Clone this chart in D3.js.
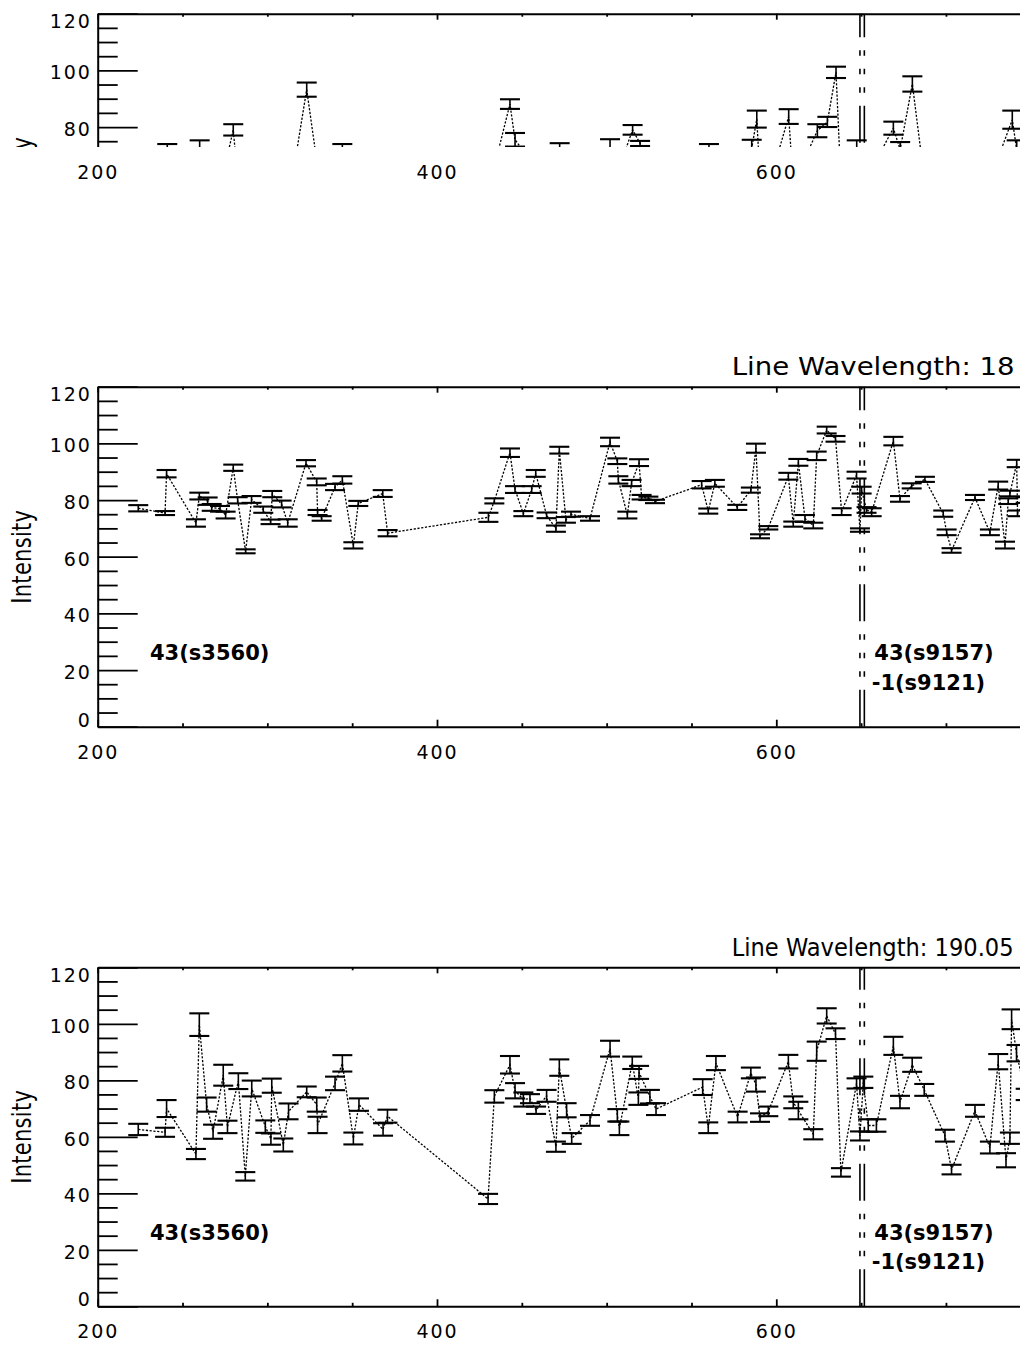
<!DOCTYPE html>
<html><head><meta charset="utf-8">
<script src="https://cdn.jsdelivr.net/npm/d3@7"></script>
<style>
body{margin:0;background:#fff}
svg{display:block}
text{font-family:"DejaVu Sans",sans-serif;fill:#000}
</style></head><body>
<svg id="c" width="1034" height="1346"></svg>
<script>
// ---------------- data ----------------
const xMajor = [200, 400, 600, 800];
const xMinor = [250, 300, 350, 450, 500, 550, 650, 700, 750];
const yMajor = [0, 20, 40, 60, 80, 100, 120];
const yMinor = [5,10,15,25,30,35,45,50,55,65,70,75,85,90,95,105,110,115];

const titles = [null, "Line Wavelength: 18", "Line Wavelength: 190.05"];
const leftLabel = "43(s3560)";
const rightLabels = ["43(s9157)", "-1(s9121)"];
const refLines = [649.3, 651.9];

// panel 1 (upper part only visible)
const p1X = [223.9,241.0,257.9,260.1,267.0,275.0,279.9,282.5,290.7,302.0,
  312.0,323.2,329.6,339.9,344.2,353.6,370.9,433.8,443.0,446.0,
  458.0,472.3,479.0,502.0,507.0,515.3,519.7,528.5,560.3,577.0,
  585.5,588.5,590.4,598.0,607.3,610.0,624.2,630.1,635.2,638.5,
  647.4,656.0,669.0,673.0,680.2,687.6,700.0,717.0,731.3,739.1,
  741.7,747];
const p1Y = [62,71,60,72.5,65,66,79,62,64,66,
  52,93.2,66,60,71,62,64,66,88.1,75.5,
  66,71.5,64,73,65,79,74.2,68,71,65,
  72.5,82.8,62,64.5,83.7,60,78.7,81.8,99.3,55,
  72,65,79.6,72,95.2,60,62,65,70,82.6,
  72,68];
const p1E = [2,3,2,2.8,2,2,2,2,2,2,
  2,2.5,2,2,3,2,2,2,1.7,2.4,
  2,2.8,2,2.7,2,1.7,0.9,2,3,2,
  3,3,2,2,2.6,2,2.3,1.8,2,2,
  3.3,2,2.3,2.7,2.7,2,2,2,2,3.2,
  3.3,2];

// panel 2
const p2X = [223.9,239.7,240.6,257.9,259.9,264.8,267.2,272.1,275.4,279.9,
  282.5,287.2,290.7,297.6,301.9,302.9,308.4,312.0,322.8,329.1,
  329.6,332.0,339.9,344.2,350.7,353.6,368.0,370.9,430.3,433.8,
  443.0,446.0,450.9,455.8,458.2,464.6,470.1,472.1,476.0,479.0,
  490.2,502.0,506.3,506.9,512.2,514.7,519.1,520.6,524.6,528.5,
  556.0,559.9,563.8,577.0,585.0,588.0,590.4,595.3,607.1,610.0,
  613.0,616.9,621.8,623.8,629.7,634.9,638.5,647.3,649.3,650.3,
  653.2,656.2,669.0,672.9,679.8,687.6,698.4,700.4,703.3,717.1,
  725.9,730.8,734.8,736.7,737.7,741.7,742.2,747];
const p2Y = [77.1,75.4,89.3,71.9,81.4,79.6,77.4,76.9,74.7,91.4,
  79.9,61.9,80.2,76.6,72.3,82.1,78.6,71.9,93.0,86.4,
  75.6,73.5,84.6,87.1,64.0,78.8,82.3,68.3,73.9,79.7,
  96.7,83.7,75.2,83.7,89.4,74.6,69.9,97.6,73.0,75.0,
  73.5,100.5,93.7,87.1,74.7,86.0,93.2,81.0,80.6,79.5,
  85.4,76.1,85.9,77.4,83.5,98.3,67.2,70.2,88.4,71.5,
  93.3,73.5,71.0,95.6,104.7,101.6,75.9,88.8,69.4,83.5,
  76.5,75.7,100.8,80.4,85.0,87.3,75.2,68.6,62.2,80.9,
  68.6,85.1,64.1,79.6,82.3,92.9,75.3,80];
const p2E = [1.1,0.7,1.3,1.3,1.2,1.3,1.2,1.0,1.2,1.1,
  1.1,0.7,1.2,1.1,0.8,1.1,1.2,1.3,1.1,1.2,
  0.9,0.8,1.1,1.3,1.1,0.9,1.2,1.1,1.6,0.9,
  1.5,1.2,0.9,1.2,1.2,1.0,1.1,1.2,1.0,0.9,
  0.8,1.5,1.0,1.3,1.2,1.1,1.2,0.8,0.6,0.6,
  1.3,0.9,1.2,0.9,0.9,1.6,0.7,0.6,1.2,0.9,
  1.2,1.2,1.0,1.5,1.2,1.0,1.2,1.2,0.6,1.2,
  1.0,1.4,1.5,1.0,0.9,0.9,1.1,1.0,0.8,0.9,
  1.0,1.4,1.2,1.0,1.0,1.3,1.0,1.0];

// panel 3
const p3X = [223.9,239.7,240.6,257.9,259.9,264.2,268.0,274.0,276.5,282.9,
  287.0,290.8,298.8,302.1,302.6,309.4,312.5,323.2,329.1,329.6,
  339.9,344.2,350.7,354.0,368.2,370.8,430.1,433.8,443.0,446.0,
  450.9,454.8,458.4,464.6,470.1,472.1,476.4,479.4,490.2,502.0,
  506.3,507.5,515.1,518.7,519.1,525.5,529.1,556.6,559.9,564.4,
  577.2,585.0,588.0,590.4,595.3,607.1,610.0,613.0,621.8,623.8,
  629.7,634.9,638.1,647.3,649.3,651.3,654.2,659.0,669.0,672.9,
  680.1,687.2,699.4,703.3,717.1,725.9,730.8,735.4,737.7,738.7,
  741.6,747];
const p3Y = [62.6,61.6,70.0,53.9,99.7,71.4,61.8,81.8,63.5,79.7,
  46.0,77.1,63.6,59.2,78.1,57.1,69.0,75.9,71.4,64.2,
  78.9,86.0,59.4,71.4,62.6,67.3,38.0,74.3,85.5,76.3,
  73.2,73.5,69.4,74.5,56.5,84.5,69.4,59.4,65.8,91.2,
  67.6,63.0,86.2,73.5,82.8,74.2,69.8,77.6,63.2,86.1,
  67.0,82.6,78.5,66.8,69.0,86.6,72.2,69.3,60.9,90.3,
  102.8,96.5,47.4,78.9,60.3,79.3,64.0,64.0,92.2,72.3,
  85.5,76.6,60.4,48.4,69.2,56.2,86.6,51.7,59.5,101.6,
  89.6,75];
const p3E = [2.0,1.6,3.0,1.8,4.0,2.5,2.5,3.7,2.2,2.8,
  1.5,2.8,2.2,2.0,2.5,2.3,2.8,1.9,2.5,2.9,
  2.4,2.9,2.1,2.2,2.2,2.3,1.8,2.2,3.1,2.7,
  2.5,1.6,1.3,2.1,1.8,2.9,2.5,1.9,1.9,2.8,
  2.2,2.4,2.2,2.2,2.3,2.4,2.1,2.8,1.9,2.5,
  1.9,1.9,2.5,1.5,1.7,2.4,2.1,3.1,1.8,3.4,
  2.7,1.9,1.5,1.8,1.6,2.0,2.2,2.2,3.2,2.2,
  2.5,2.1,2.1,1.7,2.1,2.1,2.7,2.5,2.0,3.5,
  2.9,2.0];

// ---------------- layout ----------------
const svg = d3.select('#c');
const CLIP_X = 1020;
const xL = 97.7, pxPerUnit = 1.6965;
const x = d3.scaleLinear().domain([200, 800]).range([xL, xL + 600 * pxPerUnit]);
const xLabelTicks = xMajor.filter(v => x(v) < CLIP_X);

const panels = [
  {X: p1X, Y: p1Y, E: p1E, top: 13.7, bottom: 353.7, cut: 147, title: titles[0], titleLen: 0},
  {X: p2X, Y: p2Y, E: p2E, top: 386.7, bottom: 726.7, cut: null, title: titles[1], titleLen: 283},
  {X: p3X, Y: p3Y, E: p3E, top: 967.3, bottom: 1306.3, cut: null, title: titles[2], titleLen: 282}
];

const defs = svg.append('defs');
panels.forEach((p, i) => {
  defs.append('clipPath').attr('id', 'clip' + i).append('rect')
    .attr('x', 0).attr('y', 0).attr('width', CLIP_X).attr('height', p.cut == null ? 1346 : p.cut);
});

const TICK_FS = 19, TICK_LS = 1.9;

function styleAxis(sel) {
  sel.attr('font-family', '"DejaVu Sans", sans-serif').attr('font-size', TICK_FS);
  sel.selectAll('.domain').attr('stroke', '#000').attr('stroke-width', 2);
  sel.selectAll('.tick line').attr('stroke', '#000').attr('stroke-width', 1.8);
  sel.selectAll('.tick text').attr('fill', '#000').attr('letter-spacing', TICK_LS);
}

panels.forEach((p, i) => {
  const y = d3.scaleLinear().domain([0, 120]).range([p.bottom, p.top]);
  const g = svg.append('g').attr('clip-path', `url(#clip${i})`);
  const visibleY = v => p.cut == null || y(v) < p.cut;

  // left axis - major
  const ya = g.append('g').attr('transform', `translate(${xL},0)`)
    .call(d3.axisLeft(y).tickValues(yMajor).tickSize(-40).tickSizeOuter(0)
      .tickPadding(6).tickFormat(d => String(d)));
  styleAxis(ya);
  ya.selectAll('.tick text')
    .attr('dy', d => d === 120 ? '0.74em' : (d === 0 ? '-0.02em' : '0.45em'))
    .filter(d => !visibleY(d)).remove();
  // left axis - minor
  const ym = g.append('g').attr('transform', `translate(${xL},0)`)
    .call(d3.axisLeft(y).tickValues(yMinor).tickSize(-20).tickFormat(''));
  ym.select('.domain').remove();
  styleAxis(ym);

  // top axis
  const ta = g.append('g').attr('transform', `translate(0,${p.top})`)
    .call(d3.axisTop(x).tickValues(xMajor).tickSize(-6).tickSizeOuter(0).tickFormat(''));
  styleAxis(ta);
  const tm = g.append('g').attr('transform', `translate(0,${p.top})`)
    .call(d3.axisTop(x).tickValues(xMinor).tickSize(-3).tickFormat(''));
  tm.select('.domain').remove();
  styleAxis(tm);

  // bottom axis
  if (p.cut == null) {
    const ba = g.append('g').attr('transform', `translate(0,${p.bottom})`)
      .call(d3.axisBottom(x).tickValues(xLabelTicks).tickSize(-7).tickSizeOuter(0).tickPadding(18.5));
    styleAxis(ba);
    const bm = g.append('g').attr('transform', `translate(0,${p.bottom})`)
      .call(d3.axisBottom(x).tickValues(xMinor).tickSize(-3.5).tickFormat(''));
    bm.select('.domain').remove();
    styleAxis(bm);
  }

  // y-axis title
  g.append('text')
    .attr('transform', `translate(21.7,${(p.top + p.bottom) / 2}) rotate(-90) scale(1,1.25)`)
    .attr('text-anchor', 'middle').attr('dy', '0.36em')
    .attr('font-size', 21).attr('letter-spacing', 0.3)
    .text('Intensity');

  // reference vertical lines
  refLines.forEach(rx => {
    g.append('path').attr('d', `M${x(rx)},${p.bottom}V${p.top}`)
      .attr('stroke', '#000').attr('stroke-width', 1.6).attr('fill', 'none')
      .attr('stroke-dasharray', '37,13,5.5,13,5.5,13,5.5,13');
  });

  // data
  const pts = p.X.map((xv, j) => ({x: xv, y: p.Y[j], e: p.E[j]}));
  g.append('path').datum(pts)
    .attr('d', d3.line().x(d => x(d.x)).y(d => y(d.y)))
    .attr('fill', 'none').attr('stroke', '#000').attr('stroke-width', 1.3)
    .attr('stroke-dasharray', '2.2,1.6');

  const eb = g.append('g').selectAll('g').data(pts).join('g');
  eb.append('line')
    .attr('x1', d => x(d.x)).attr('x2', d => x(d.x))
    .attr('y1', d => y(d.y - d.e)).attr('y2', d => y(d.y + d.e))
    .attr('stroke', '#000').attr('stroke-width', 1.6);
  [-1, 1].forEach(s => {
    eb.append('line')
      .attr('x1', d => x(d.x) - 10).attr('x2', d => x(d.x) + 10)
      .attr('y1', d => y(d.y + s * d.e)).attr('y2', d => y(d.y + s * d.e))
      .attr('stroke', '#000').attr('stroke-width', 2.1);
  });

  // annotation labels (only where the panel is fully shown)
  if (p.cut == null) {
    g.append('text').attr('x', 150).attr('y', y(26) + 7)
      .attr('font-size', 21).attr('font-weight', 'bold').text(leftLabel);
    g.append('text').attr('x', 874.3).attr('y', y(26) + 7)
      .attr('font-size', 21).attr('font-weight', 'bold').text(rightLabels[0]);
    g.append('text').attr('x', 871.7).attr('y', y(26) + 36.5)
      .attr('font-size', 21).attr('font-weight', 'bold').text(rightLabels[1]);
  }

  // title (horizontally scaled to the reference width)
  if (p.title) {
    const t = g.append('text').attr('font-size', 25).text(p.title);
    const natural = t.node().getComputedTextLength();
    const sx = p.titleLen / natural;
    t.attr('transform', `translate(731.7,${p.top - 11.7}) scale(${sx},1)`);
  }

  // x tick labels for the cut-off first panel
  if (p.cut != null) {
    const la = svg.append('g').attr('transform', `translate(0,${p.cut})`)
      .call(d3.axisBottom(x).tickValues(xLabelTicks).tickSize(0).tickPadding(18.5));
    la.select('.domain').remove();
    la.selectAll('.tick line').remove();
    styleAxis(la);
  }
});
</script>
</body></html>
